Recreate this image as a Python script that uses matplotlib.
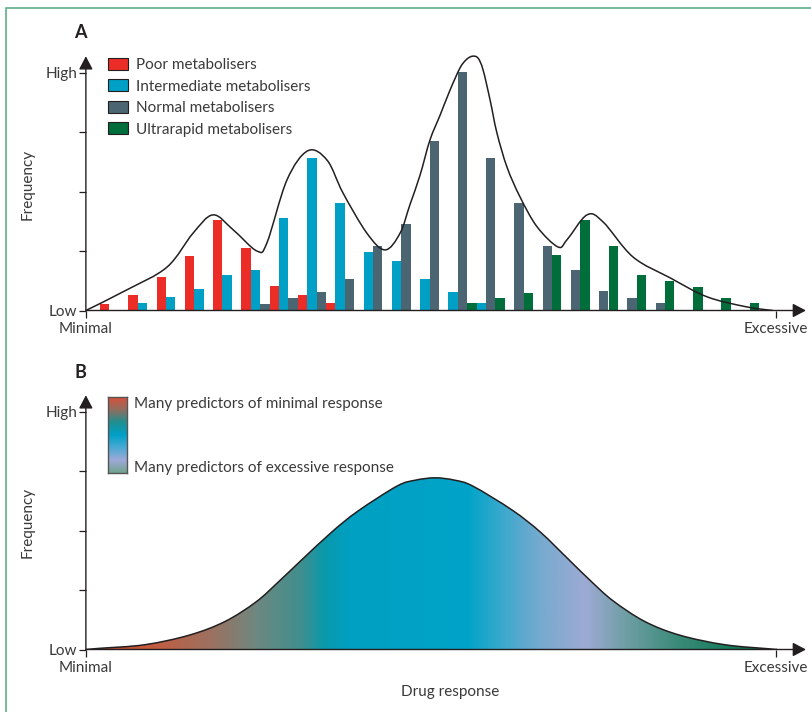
import numpy as np
import matplotlib
matplotlib.use("Agg")
import matplotlib.pyplot as plt
from matplotlib.path import Path
from matplotlib.patches import PathPatch, Patch, Rectangle
from matplotlib.colors import LinearSegmentedColormap

# Panel A: bar heights per response slot (0 = Low, 4 = High)
poor_slots = [0, 1, 2, 3, 4, 5, 6, 7, 8]
poor_vals = [0.11, 0.26, 0.56, 0.92, 1.52, 1.06, 0.41, 0.26, 0.13]
inter_slots = [1, 2, 3, 4, 5, 6, 7, 8, 9, 10, 11, 12, 13]
inter_vals = [0.13, 0.23, 0.36, 0.60, 0.68, 1.56, 2.57, 1.81, 0.98, 0.83, 0.53, 0.31, 0.13]
normal_slots = [5, 6, 7, 8, 9, 10, 11, 12, 13, 14, 15, 16, 17, 18, 19]
normal_vals = [0.11, 0.21, 0.31, 0.53, 1.09, 1.46, 2.85, 4.02, 2.57, 1.81, 1.09, 0.68, 0.33, 0.21, 0.13]
ultra_slots = [13, 14, 15, 16, 17, 18, 19, 20, 21, 22, 23]
ultra_vals = [0.13, 0.21, 0.29, 0.93, 1.52, 1.09, 0.60, 0.50, 0.40, 0.21, 0.13]

# Panel A envelope
curve_x = [-0.5, 0.96, 2.37, 3.29, 4.0, 4.71, 5.56, 5.91, 6.62, 7.36, 8.04, 8.6, 9.45,
           10.09, 10.62, 10.97, 11.33, 11.68, 12.04, 12.39, 12.74, 12.96, 13.17, 13.38,
           13.56, 13.81, 14.05, 14.41, 14.87, 15.47, 16.21, 16.53, 17.24, 17.81, 18.87,
           20.18, 21.49, 22.9, 23.82]
curve_y = [0.0, 0.35, 0.73, 1.30, 1.61, 1.36, 1.0, 1.14, 2.20, 2.69, 2.53, 1.98, 1.30,
           1.02, 1.30, 1.78, 2.28, 2.87, 3.29, 3.71, 4.08, 4.22, 4.28, 4.25,
           4.05, 3.54, 2.99, 2.41, 1.91, 1.41, 1.07, 1.19, 1.61, 1.49, 0.90,
           0.55, 0.23, 0.06, 0.0]

# Panel B: overall distribution
bell_x = [-0.5, 0.0, 1.58, 3.15, 4.42, 5.52, 6.32, 7.12, 8.21, 9.13, 10.51, 11.16, 11.86,
          12.56, 13.20, 14.58, 15.58, 16.6, 17.38, 18.16, 19.29, 20.53, 22.12, 23.72, 23.93]
bell_y = [0.0, 0.02, 0.08, 0.24, 0.47, 0.80, 1.14, 1.50, 1.98, 2.33, 2.75, 2.85, 2.89,
          2.85, 2.75, 2.35, 1.98, 1.51, 1.15, 0.82, 0.47, 0.24, 0.08, 0.01, 0.0]
grad_x = [-0.5, 1.6, 3.96, 5.5, 7.1, 7.9, 8.85, 13.0, 13.9, 15.5, 17.2, 18.65, 20.5, 22.9, 23.9]
grad_colors = ["#c9452c", "#c85a3c", "#9a7262", "#6e8880", "#3f8f8f", "#0a99ab", "#00a0c2",
               "#00a3c8", "#2aa8cc", "#74aacf", "#9eaad4", "#6e9ea4", "#3a8a78", "#0b7755",
               "#07704d"]
key_colors = ["#d9503a", "#8f6e60", "#1e9092", "#00a0c8", "#4aaad4", "#9fa9d8", "#70a48e"]

W, H = 812, 712
INK = "#231f20"
TEXT = "#3a3a3a"
XMIN, XMAX, YMAX = -0.5, 25.2, 4.35
SLOT0, SLOT, UNIT = 100, 28.25, 59.4

plt.rcParams["font.family"] = ["Lato", "DejaVu Sans"]


def px_axes(fig, x0, y0, x1, y1):
    return fig.add_axes([x0 / W, 1 - y1 / H, (x1 - x0) / W, (y1 - y0) / H])


def smooth_path(xs, ys):
    pts = np.column_stack([xs, ys])
    verts = [pts[0]]
    codes = [Path.MOVETO]
    n = len(pts)
    for i in range(n - 1):
        p0 = pts[max(i - 1, 0)]
        p1 = pts[i]
        p2 = pts[i + 1]
        p3 = pts[min(i + 2, n - 1)]
        verts += [p1 + (p2 - p0) / 6, p2 - (p3 - p1) / 6, p2]
        codes += [Path.CURVE4] * 3
    return verts, codes


def make_axes(fig, base_py):
    ax = px_axes(fig, SLOT0 + SLOT * XMIN, base_py - YMAX * UNIT,
                 SLOT0 + SLOT * XMAX, base_py)
    ax.set_xlim(XMIN, XMAX)
    ax.set_ylim(0, YMAX)
    for s in ax.spines.values():
        s.set_visible(False)
    arrow = dict(arrowstyle="-|>,head_length=0.8,head_width=0.42", color=INK,
                 lw=1.0, shrinkA=0, shrinkB=0)
    ax.annotate("", xy=(24.99, 0), xytext=(XMIN, 0), arrowprops=arrow,
                annotation_clip=False)
    ax.annotate("", xy=(XMIN, 4.28), xytext=(XMIN, 0), arrowprops=arrow,
                annotation_clip=False)
    ax.set_yticks([0, 1, 2, 3, 4], ["Low", "", "", "", "High"])
    ax.set_xticks([XMIN, 23.93], ["Minimal", "Excessive"])
    ax.tick_params(axis="y", direction="out", length=5, width=0.9, color=INK,
                   labelsize=11, labelcolor=TEXT, pad=1)
    ax.tick_params(axis="x", direction="out", length=5, width=0.9, color=INK,
                   labelsize=11, labelcolor=TEXT, pad=3)
    return ax


fig = plt.figure(figsize=(W / 100, H / 100), dpi=100)

# ---- Panel A
ax_a = make_axes(fig, 310.5)
series = [(poor_slots, poor_vals, 0.0, "#ec2d27", "Poor metabolisers"),
          (inter_slots, inter_vals, 1 / 3, "#00a0c6", "Intermediate metabolisers"),
          (normal_slots, normal_vals, 2 / 3, "#4b6672", "Normal metabolisers"),
          (ultra_slots, ultra_vals, 0.0, "#006e3b", "Ultrarapid metabolisers")]
handles = []
for slots, vals, off, col, lab in series:
    ax_a.bar(np.array(slots) + off, vals, width=1 / 3, align="edge", color=col,
             linewidth=0, zorder=2)
    handles.append(Patch(facecolor=col, edgecolor=INK, linewidth=0.8, label=lab))
verts, codes = smooth_path(curve_x, curve_y)
ax_a.add_patch(PathPatch(Path(verts, codes), facecolor="none", edgecolor=INK,
                         lw=1.1, zorder=3))
fig.legend(handles=handles, loc="upper left", bbox_to_anchor=(108 / W, 1 - 58 / H),
           frameon=False, fontsize=11, labelcolor=TEXT, borderpad=0, borderaxespad=0,
           handlelength=1.3, handleheight=0.8, handletextpad=0.55, labelspacing=0.48)

# ---- Panel B
ax_b = make_axes(fig, 649.5)
verts, codes = smooth_path(bell_x, bell_y)
outline = Path(verts, codes)
area = Path(verts + [(bell_x[-1], 0), (bell_x[0], 0), (bell_x[0], 0)],
            codes + [Path.LINETO, Path.LINETO, Path.CLOSEPOLY])
clip = PathPatch(area, facecolor="none", edgecolor="none")
ax_b.add_patch(clip)
stops = (np.array(grad_x) - grad_x[0]) / (grad_x[-1] - grad_x[0])
cmap = LinearSegmentedColormap.from_list("resp", list(zip(stops, grad_colors)))
img = ax_b.imshow(np.linspace(0, 1, 800).reshape(1, -1), cmap=cmap, aspect="auto",
                  extent=[grad_x[0], grad_x[-1], 0, 3.0], interpolation="bilinear",
                  zorder=1)
img.set_clip_path(clip)
ax_b.add_patch(PathPatch(outline, facecolor="none", edgecolor=INK, lw=1.1, zorder=3))
ax_b.set_xlim(XMIN, XMAX)
ax_b.set_ylim(0, YMAX)

key = px_axes(fig, 108, 397, 127, 473)
key_map = LinearSegmentedColormap.from_list("key", key_colors)
key.imshow(np.linspace(0, 1, 200).reshape(-1, 1), cmap=key_map, aspect="auto")
key.set_xticks([])
key.set_yticks([])
for s in key.spines.values():
    s.set_color("#555555")
    s.set_linewidth(1.0)
fig.text(134 / W, 1 - 404 / H, "Many predictors of minimal response", fontsize=11,
         color=TEXT, va="center")
fig.text(134 / W, 1 - 468 / H, "Many predictors of excessive response", fontsize=11,
         color=TEXT, va="center")

# ---- labels and frame
fig.text(80 / W, 1 - 33 / H, "A", fontsize=13, fontweight="bold", color=INK,
         ha="center", va="center")
fig.text(80 / W, 1 - 372 / H, "B", fontsize=13, fontweight="bold", color=INK,
         ha="center", va="center")
for cy in (184, 522):
    fig.text(28 / W, 1 - cy / H, "Frequency", fontsize=11, color=TEXT, rotation=90,
             ha="center", va="center")
fig.text(450 / W, 1 - 692 / H, "Drug response", fontsize=11, color=TEXT,
         ha="center", va="center")
fig.add_artist(Rectangle((6 / W, -0.1), 1.2, 1.1 - 8 / H, transform=fig.transFigure,
                         facecolor="none", edgecolor="#5fae86", lw=1.2))

fig.savefig("out.png", dpi=100)
